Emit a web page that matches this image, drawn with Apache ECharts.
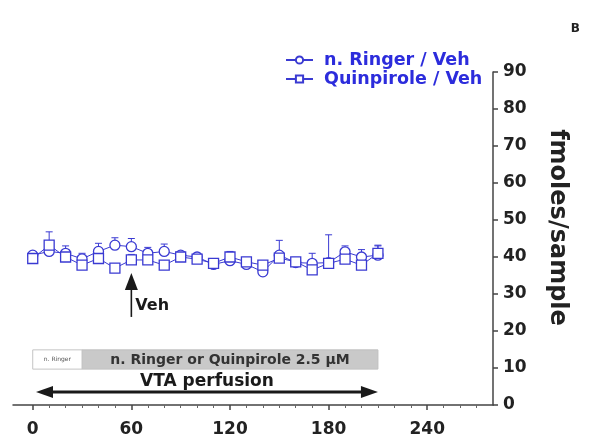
<!DOCTYPE html>
<html>
<head>
<meta charset="utf-8">
<script src="https://cdn.jsdelivr.net/npm/echarts@6/dist/echarts.min.js"></script>
<style>
  html, body { margin: 0; padding: 0; background: #fff; }
  #chart { width: 598px; height: 446px; }
</style>
</head>
<body>
<div id="chart"></div>
<script>
// Sampling times (min)
const times = [0, 10, 20, 30, 40, 50, 60, 70, 80, 90, 100, 110, 120, 130, 140, 150, 160, 170, 180, 190, 200, 210];

// n. Ringer / Veh: mean and SEM (fmoles/sample)
const ringerMean = [40.5, 41.5, 41.0, 39.5, 41.5, 43.2, 42.8, 41.0, 41.5, 40.5, 40.0, 38.0, 39.0, 38.0, 36.0, 40.5, 38.5, 38.3, 38.5, 41.4, 40.0, 40.5];
const ringerSem  = [1.0, 1.5, 2.0, 1.5, 2.2, 2.0, 2.2, 1.6, 2.0, 1.0, 1.0, 1.0, 1.0, 1.5, 1.8, 4.0, 0.8, 2.7, 1.0, 1.6, 2.0, 2.7];

// Quinpirole / Veh: mean and SEM (fmoles/sample)
const quinMean = [39.6, 43.2, 40.0, 37.8, 39.6, 37.0, 39.2, 39.2, 37.8, 40.0, 39.4, 38.3, 40.0, 38.7, 37.8, 39.7, 38.7, 36.5, 38.3, 39.4, 37.8, 41.0];
const quinSem  = [1.2, 3.6, 1.5, 1.0, 1.5, 1.2, 1.5, 1.0, 1.2, 1.2, 1.0, 1.2, 1.5, 1.2, 1.0, 1.2, 1.2, 1.0, 7.7, 1.5, 1.2, 2.0];

// Axis ticks
const xMajorTicks = [0, 60, 120, 180, 240];
const xMinorTicks = [10, 20, 30, 40, 50, 70, 80, 90, 100, 110, 130, 140, 150, 160, 170, 190, 200, 210, 220, 230, 250, 260, 270];

// Treatment protocol (time spans in min)
const ringerPeriod = [0, 30];
const drugPeriod = [30, 210];
const perfusionPeriod = [2, 210];
const vehicleTime = 60;

const BLUE = '#3a3ad2';
const TEXT_BLUE = '#2c2cdc';
const FONT = '"DejaVu Sans", "Liberation Sans", sans-serif';

const chart = echarts.init(document.getElementById('chart'), null, { renderer: 'canvas' });

function errorBars(means, sems) {
  return times.map((t, i) => [t, means[i], sems[i]]);
}

function renderErrorBar(params, api) {
  const x = api.value(0), y = api.value(1), e = api.value(2);
  const p0 = api.coord([x, y]);
  const p1 = api.coord([x, y + e]);
  const style = { stroke: BLUE, lineWidth: 1 };
  return {
    type: 'group',
    children: [
      { type: 'line', shape: { x1: p0[0], y1: p0[1], x2: p1[0], y2: p1[1] }, style },
      { type: 'line', shape: { x1: p1[0] - 3.5, y1: p1[1], x2: p1[0] + 3.5, y2: p1[1] }, style }
    ]
  };
}

// Protocol annotations: perfusion boxes, the perfusion arrow and the vehicle arrow
function renderProtocol(params, api) {
  const boxTop = 14.9, boxBottom = 9.7;
  const r0 = api.coord([ringerPeriod[0], boxTop]);
  const r1 = api.coord([ringerPeriod[1], boxBottom]);
  const d0 = api.coord([drugPeriod[0], boxTop]);
  const d1 = api.coord([drugPeriod[1], boxBottom]);
  const a0 = api.coord([perfusionPeriod[0], 3.5]);
  const a1 = api.coord([perfusionPeriod[1], 3.5]);
  const vTip = api.coord([vehicleTime, 35.7]);
  const vBot = api.coord([vehicleTime, 23.8]);
  const head = 17, half = 6;
  const vHead = 17, vHalf = 6.5;
  const dark = '#1a1a1a';
  return {
    type: 'group',
    children: [
      { type: 'rect', shape: { x: d0[0], y: d0[1], width: d1[0] - d0[0], height: d1[1] - d0[1] },
        style: { fill: '#c9c9c9', stroke: '#c0c0c0', lineWidth: 1 } },
      { type: 'rect', shape: { x: r0[0], y: r0[1], width: r1[0] - r0[0], height: r1[1] - r0[1] },
        style: { fill: '#ffffff', stroke: '#c4c4c4', lineWidth: 1 } },
      { type: 'text', style: { x: (r0[0] + r1[0]) / 2, y: (r0[1] + r1[1]) / 2, text: 'n. Ringer',
        fill: '#555', font: '6px ' + FONT, align: 'center', verticalAlign: 'middle' } },
      { type: 'text', style: { x: (d0[0] + d1[0]) / 2, y: (d0[1] + d1[1]) / 2 + 0.5, text: 'n. Ringer or Quinpirole 2.5 µM',
        fill: '#333', font: 'bold 14px ' + FONT, align: 'center', verticalAlign: 'middle' } },
      { type: 'text', style: { x: (a0[0] + a1[0]) / 2, y: api.coord([0, 6.3])[1], text: 'VTA perfusion',
        fill: dark, font: 'bold 17px ' + FONT, align: 'center', verticalAlign: 'middle' } },
      { type: 'line', shape: { x1: a0[0] + head - 2, y1: a0[1], x2: a1[0] - head + 2, y2: a1[1] },
        style: { stroke: dark, lineWidth: 3 } },
      { type: 'polygon', shape: { points: [[a0[0], a0[1]], [a0[0] + head, a0[1] - half], [a0[0] + head, a0[1] + half]] },
        style: { fill: dark } },
      { type: 'polygon', shape: { points: [[a1[0], a1[1]], [a1[0] - head, a1[1] - half], [a1[0] - head, a1[1] + half]] },
        style: { fill: dark } },
      { type: 'line', shape: { x1: vBot[0], y1: vBot[1], x2: vTip[0], y2: vTip[1] + vHead - 2 },
        style: { stroke: dark, lineWidth: 1.6 } },
      { type: 'polygon', shape: { points: [[vTip[0], vTip[1]], [vTip[0] - vHalf, vTip[1] + vHead], [vTip[0] + vHalf, vTip[1] + vHead]] },
        style: { fill: dark } },
      { type: 'text', style: { x: vTip[0] + 4, y: api.coord([0, 26.8])[1], text: 'Veh',
        fill: dark, font: 'bold 16px ' + FONT, align: 'left', verticalAlign: 'middle' } }
    ]
  };
}

const option = {
  animation: false,
  backgroundColor: '#ffffff',
  title: {
    text: 'B', right: 13, top: 18,
    textStyle: { fontSize: 12, fontWeight: 'bold', color: '#222', fontFamily: FONT }
  },
  legend: {
    orient: 'vertical', left: 280, top: 46, itemGap: 1,
    itemWidth: 27, itemHeight: 9,
    data: ['n. Ringer / Veh', 'Quinpirole / Veh'],
    textStyle: { color: TEXT_BLUE, fontWeight: 'bold', fontSize: 17.5, fontFamily: FONT, padding: [0, 0, 0, 6] }
  },
  grid: { left: 13, right: 105, top: 72, bottom: 41, containLabel: false },
  xAxis: [
    {
      type: 'value', min: -12, max: 280, position: 'bottom',
      axisLine: { show: true, lineStyle: { color: '#444', width: 1.5 } },
      axisTick: { show: true, customValues: xMajorTicks, length: 5, lineStyle: { color: '#444', width: 1.5 } },
      axisLabel: { customValues: xMajorTicks, margin: 16, color: '#222', fontSize: 17, fontWeight: 'bold', fontFamily: FONT },
      splitLine: { show: false }
    },
    {
      type: 'value', min: -12, max: 280, position: 'bottom', gridIndex: 0,
      axisLine: { show: false },
      axisTick: { show: true, customValues: xMinorTicks, length: 3, lineStyle: { color: '#666', width: 1 } },
      axisLabel: { show: false },
      splitLine: { show: false }
    }
  ],
  yAxis: {
    type: 'value', min: 0, max: 90, interval: 10, position: 'right',
    axisLine: { show: true, onZero: false, lineStyle: { color: '#444', width: 1.5 } },
    axisTick: { show: true, length: 5, lineStyle: { color: '#444', width: 1.5 } },
    axisLabel: { margin: 10, color: '#222', fontSize: 17, fontWeight: 'bold', fontFamily: FONT },
    splitLine: { show: false },
    name: 'fmoles/sample', nameLocation: 'middle', nameRotate: -90, nameGap: 52,
    nameTextStyle: { color: '#222', fontSize: 24, fontWeight: 'bold', fontFamily: FONT, padding: [0, 22, 0, 0] }
  },
  series: [
    {
      type: 'custom', name: 'protocol', renderItem: renderProtocol, data: [[0, 0]],
      silent: true, z: 1, clip: false
    },
    {
      type: 'custom', name: 'ringerErr', renderItem: renderErrorBar,
      data: errorBars(ringerMean, ringerSem), z: 2, silent: true
    },
    {
      type: 'custom', name: 'quinErr', renderItem: renderErrorBar,
      data: errorBars(quinMean, quinSem), z: 2, silent: true
    },
    {
      name: 'n. Ringer / Veh', type: 'line', z: 3,
      data: times.map((t, i) => [t, ringerMean[i]]),
      symbol: 'circle', symbolSize: 10,
      lineStyle: { color: BLUE, width: 1 },
      itemStyle: { color: '#ffffff', borderColor: BLUE, borderWidth: 1.3 }
    },
    {
      name: 'Quinpirole / Veh', type: 'line', z: 4,
      data: times.map((t, i) => [t, quinMean[i]]),
      symbol: 'rect', symbolSize: 10,
      lineStyle: { color: BLUE, width: 1 },
      itemStyle: { color: '#ffffff', borderColor: BLUE, borderWidth: 1.3 }
    }
  ]
};

chart.setOption(option);
</script>
</body>
</html>
